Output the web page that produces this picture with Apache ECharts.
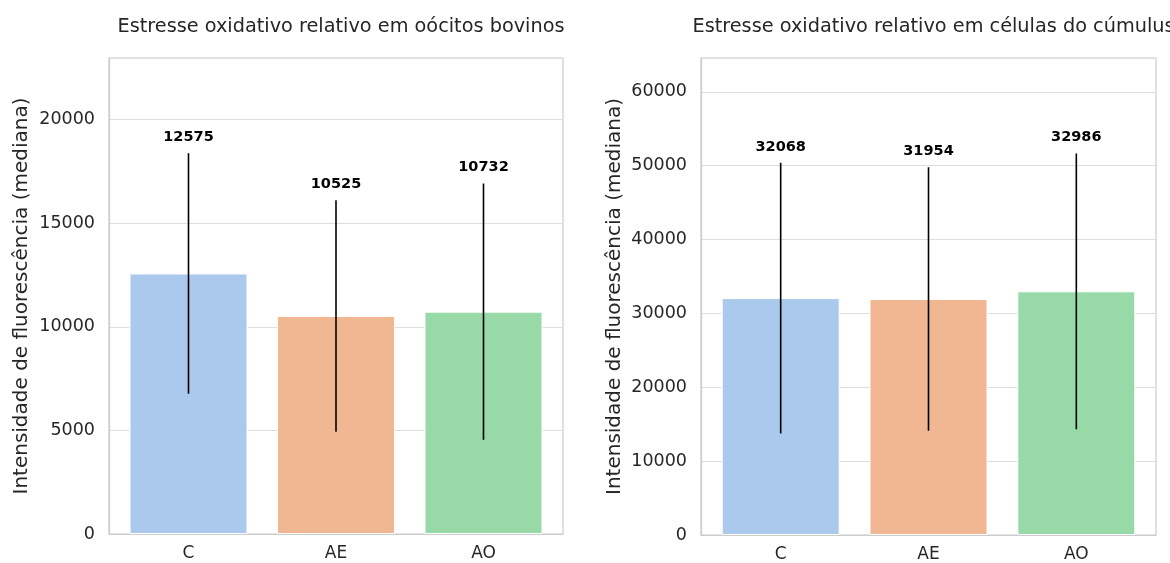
<!DOCTYPE html>
<html>
<head>
<meta charset="utf-8">
<script src="https://cdn.jsdelivr.net/npm/echarts@6/dist/echarts.min.js"></script>
<style>html,body{margin:0;padding:0;background:#fff;}#c{width:1170px;height:563px;}</style>
</head>
<body>
<div id="c"></div>
<script>
const categories = ['C', 'AE', 'AO'];
const oocyteValues = [12575, 10525, 10732];
const oocyteErrors = [5805, 5585, 6180];
const cumulusValues = [32068, 31954, 32986];
const cumulusErrors = [18320, 17840, 18670];
const barColors = ['#abc9ec', '#f0b792', '#98d9a8'];
const titles = ['Estresse oxidativo relativo em oócitos bovinos', 'Estresse oxidativo relativo em células do cúmulus'];
const yName = 'Intensidade de fluorescência (mediana)';

const FONT = 'DejaVu Sans';
const txt = '#262626';

function maxOf(vals, errs) {
  return Math.max(...vals.map((v, i) => v + errs[i])) * 1.25;
}

const grids = [
  { left: 109, top: 58, width: 454, height: 476 },
  { left: 701, top: 58, width: 455, height: 477 }
];
const panels = [
  { vals: oocyteValues, errs: oocyteErrors, interval: 5000 },
  { vals: cumulusValues, errs: cumulusErrors, interval: 10000 }
];
const catIdx = categories.map((c, k) => k);

const option = {
  animation: false,
  backgroundColor: '#fff',
  title: panels.map((p, i) => ({
    text: titles[i],
    left: grids[i].left + grids[i].width / 2,
    textAlign: 'center',
    top: 12,
    textStyle: { fontFamily: FONT, fontSize: 19.3, fontWeight: 'normal', color: txt }
  })),
  grid: grids.map(g => Object.assign({ show: true, borderColor: '#cccccc', borderWidth: 1.2, backgroundColor: '#fff', containLabel: false }, g)),
  xAxis: panels.map((p, i) => ({
    type: 'value',
    gridIndex: i,
    min: -0.539,
    max: categories.length - 1 + 0.539,
    axisLine: { show: true, onZero: false, lineStyle: { color: '#cccccc', width: 1.2 } },
    axisTick: { show: false },
    axisLabel: {
      fontFamily: FONT, fontSize: 17, color: txt, margin: 11,
      customValues: catIdx,
      formatter: v => categories[Math.round(v)] || ''
    },
    splitLine: { show: false }
  })),
  yAxis: panels.map((p, i) => ({
    type: 'value',
    gridIndex: i,
    min: 0,
    max: maxOf(p.vals, p.errs),
    interval: p.interval,
    name: yName,
    nameLocation: 'middle',
    nameRotate: 90,
    nameGap: i === 0 ? 77 : 76,
    nameTextStyle: { fontFamily: FONT, fontSize: 20, color: txt },
    axisLine: { show: true, onZero: false, lineStyle: { color: '#cccccc', width: 1.2 } },
    axisTick: { show: false },
    axisLabel: {
      fontFamily: FONT, fontSize: 17.5, color: txt, margin: 14,
      showMaxLabel: false,
      formatter: v => (v % p.interval === 0 ? String(v) : '')
    },
    splitLine: { show: true, lineStyle: { color: '#dedede', width: 1.2 } }
  })),
  series: []
};

panels.forEach((p, i) => {
  option.series.push({
    type: 'bar',
    xAxisIndex: i,
    yAxisIndex: i,
    barWidth: 118,
    data: p.vals.map((v, k) => ({ value: [k, v], itemStyle: { color: barColors[k], borderColor: '#fff', borderWidth: 1 } })),
    z: 2
  });
  option.series.push({
    type: 'custom',
    xAxisIndex: i,
    yAxisIndex: i,
    z: 5,
    data: p.vals.map((v, k) => [k, v - p.errs[k], v + p.errs[k], v]),
    renderItem: function (params, api) {
      const x = api.value(0);
      const lo = api.coord([x, api.value(1)]);
      const hi = api.coord([x, api.value(2)]);
      return {
        type: 'group',
        children: [
          { type: 'line', shape: { x1: lo[0], y1: lo[1], x2: hi[0], y2: hi[1] }, style: { stroke: '#000', lineWidth: 1.6 } },
          { type: 'text', x: hi[0], y: hi[1] - 16, style: { text: String(api.value(3)), fill: '#000', font: 'bold 14.5px "DejaVu Sans"', align: 'center', verticalAlign: 'middle' } }
        ]
      };
    }
  });
});

const chart = echarts.init(document.getElementById('c'), null, { renderer: 'canvas' });
chart.setOption(option);
</script>
</body>
</html>
